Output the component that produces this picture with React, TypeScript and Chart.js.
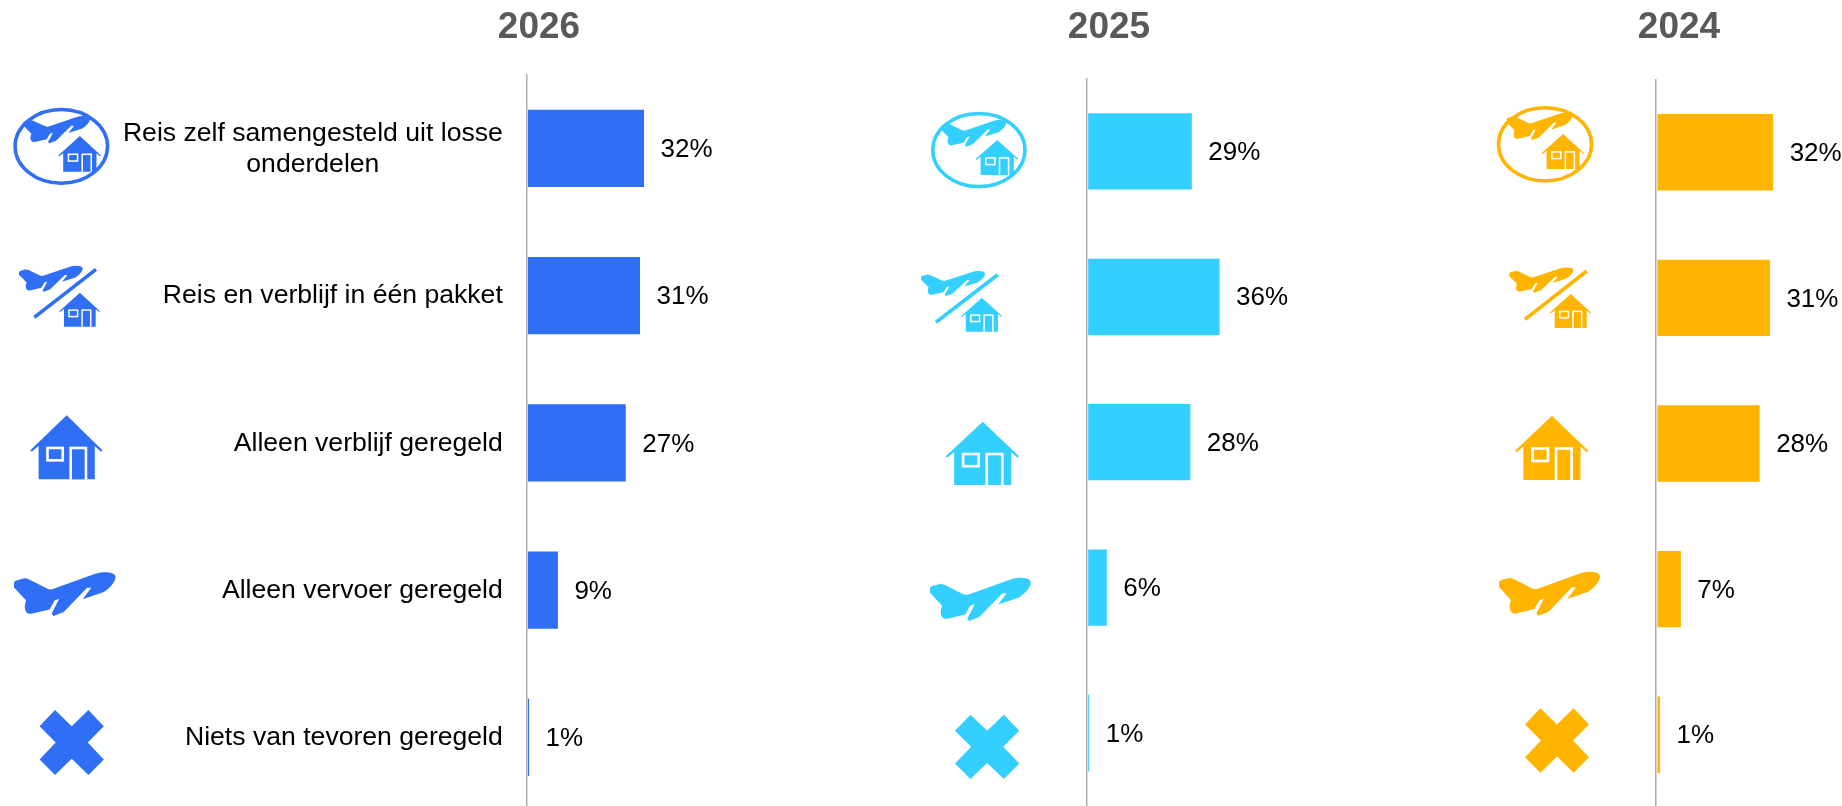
import React, { useEffect, useRef } from "react";
import { Chart, registerables } from "chart.js";

Chart.register(...registerables);

// ---- data ----
const categories: string[][] = [
  ["Reis zelf samengesteld uit losse", "onderdelen"],
  ["Reis en verblijf in één pakket"],
  ["Alleen verblijf geregeld"],
  ["Alleen vervoer geregeld"],
  ["Niets van tevoren geregeld"],
];
const years = ["2026", "2025", "2024"];
const values2026 = [32.2, 31.1, 27.2, 8.6, 0.7];
const values2025 = [28.8, 36.4, 28.4, 5.5, 0.7];
const values2024 = [32.1, 31.2, 28.4, 6.8, 1.1];
const colors = ["#2E6FF6", "#33CFFF", "#FFB500"];

// ---- layout (page pixels) ----
type Box = [number, number, number, number]; // x0,y0,x1,y1
interface Panel {
  year: string;
  values: number[];
  color: string;
  left: number;
  width: number;
  axisX: number;
  top: number;
  bottom: number;
  showCategories: boolean;
  oval: Box;
  ovalPlane: Box;
  ovalHouse: Box;
  slashPlane: Box;
  slash: Box;
  slashHouse: Box;
  house: Box;
  plane: Box;
  cross: Box;
}
const panels: Panel[] = [
  {
    year: years[0], values: values2026, color: colors[0], left: 0, width: 1078, axisX: 526.5, top: 74.7, bottom: 811, showCategories: true,
    oval: [13.3, 107.7, 109.3, 185], ovalPlane: [23.3, 116, 90, 143.3], ovalHouse: [58.3, 136, 101, 171.7],
    slashPlane: [19, 265.7, 82.7, 291.7], slash: [34.3, 317.3, 96, 269.3], slashHouse: [59.3, 292.7, 100, 326.7],
    house: [30.3, 415.3, 102.4, 479.3], plane: [14, 572, 115.5, 616], cross: [39.6, 710, 103.8, 775],
  },
  {
    year: years[1], values: values2025, color: colors[1], left: 900, width: 418, axisX: 1086.7, top: 78.7, bottom: 805.7, showCategories: false,
    oval: [931, 111.7, 1026.7, 188.3], ovalPlane: [940.7, 120, 1006, 146.7], ovalHouse: [975.7, 140, 1018.3, 175],
    slashPlane: [921, 271, 985, 296], slash: [936, 322.3, 997.7, 274.7], slashHouse: [961, 297.7, 1002.3, 331.7],
    house: [945.7, 421.7, 1019, 485], plane: [930, 577.7, 1030.7, 621], cross: [955, 714.7, 1019.3, 779],
  },
  {
    year: years[2], values: values2024, color: colors[2], left: 1470, width: 418, axisX: 1656, top: 79.5, bottom: 807.5, showCategories: false,
    oval: [1496.7, 106, 1593.3, 182.7], ovalPlane: [1506.7, 112.7, 1572.3, 140], ovalHouse: [1541.7, 134, 1584, 169],
    slashPlane: [1509.3, 267.3, 1573.3, 292.7], slash: [1525, 319.3, 1586.7, 271], slashHouse: [1550, 294, 1591, 328],
    house: [1515, 415.7, 1588.3, 480], plane: [1499, 571.7, 1600, 615.7], cross: [1525, 708.3, 1589, 772.7],
  },
];

const CANVAS_H = 830;
const PX_PER_PCT = 3.65;
const BAR_GAP_VALUE = 0.4;
const FONT = '"Liberation Sans", Arial, sans-serif';
const TITLE_SIZE = 37;
const TITLE_LH = 1.2;
const TITLE_PAD_TOP = 6;
const LABEL_SIZE = 26;
const CAT_SIZE = 26.6;
const CAT_LINE = 31.3;
const CAT_RIGHT = 502.8;

// ---- icon shapes ----
function drawPlane(ctx: CanvasRenderingContext2D, b: Box) {
  const [x0, y0, x1, y1] = b;
  const X = (u: number) => x0 + u * (x1 - x0);
  const Y = (v: number) => y0 + v * (y1 - y0);
  ctx.beginPath();
  ctx.moveTo(X(0), Y(0.25));
  ctx.quadraticCurveTo(X(0), Y(0.2), X(0.04), Y(0.18));
  ctx.lineTo(X(0.09), Y(0.15));
  ctx.quadraticCurveTo(X(0.11), Y(0.13), X(0.15), Y(0.17));
  ctx.lineTo(X(0.33), Y(0.38));
  ctx.quadraticCurveTo(X(0.36), Y(0.41), X(0.39), Y(0.38));
  ctx.lineTo(X(0.8), Y(0.04));
  ctx.bezierCurveTo(X(0.87), Y(-0.02), X(0.99), Y(-0.01), X(1), Y(0.1));
  ctx.bezierCurveTo(X(1), Y(0.25), X(0.93), Y(0.38), X(0.885), Y(0.455));
  ctx.lineTo(X(0.677), Y(0.62));
  ctx.lineTo(X(0.76), Y(0.36));
  ctx.lineTo(X(0.72), Y(0.36));
  ctx.lineTo(X(0.49), Y(0.91));
  ctx.lineTo(X(0.39), Y(1));
  ctx.lineTo(X(0.37), Y(0.95));
  ctx.lineTo(X(0.445), Y(0.61));
  ctx.lineTo(X(0.4), Y(0.65));
  ctx.lineTo(X(0.35), Y(0.85));
  ctx.lineTo(X(0.17), Y(0.95));
  ctx.bezierCurveTo(X(0.11), Y(0.98), X(0.09), Y(0.8), X(0.12), Y(0.65));
  ctx.lineTo(X(0), Y(0.35));
  ctx.closePath();
  ctx.fill();
}

function drawHouse(ctx: CanvasRenderingContext2D, b: Box, color: string) {
  const [x0, y0, x1, y1] = b;
  const w = x1 - x0;
  const X = (u: number) => x0 + u * w;
  const Y = (v: number) => y0 + v * (y1 - y0);
  const poly = (pts: number[][], fill: string) => {
    ctx.fillStyle = fill;
    ctx.beginPath();
    pts.forEach(([u, v], i) => (i ? ctx.lineTo(X(u), Y(v)) : ctx.moveTo(X(u), Y(v))));
    ctx.closePath();
    ctx.fill();
  };
  poly(
    [[0.505, 0], [1, 0.545], [0.98, 0.57], [0.894, 0.48], [0.894, 1], [0.115, 1], [0.115, 0.48], [0.02, 0.57], [0, 0.545]],
    color
  );
  const s = w * 0.036;
  const rect = (u0: number, v0: number, u1: number, v1: number, open: boolean) => {
    ctx.fillStyle = "#ffffff";
    ctx.fillRect(X(u0), Y(v0), X(u1) - X(u0), Y(v1) - Y(v0));
    ctx.fillStyle = color;
    ctx.fillRect(X(u0) + s, Y(v0) + s, X(u1) - X(u0) - 2 * s, Y(v1) - Y(v0) - (open ? s : 2 * s));
  };
  rect(0.22, 0.49, 0.468, 0.724, false);
  rect(0.542, 0.49, 0.79, 1, true);
}

function drawCross(ctx: CanvasRenderingContext2D, b: Box) {
  const [x0, y0, x1, y1] = b;
  const pts = [[0.24, 0], [0.5, 0.25], [0.76, 0], [1, 0.25], [0.75, 0.5], [1, 0.76], [0.76, 1], [0.5, 0.75], [0.24, 1], [0, 0.76], [0.25, 0.5], [0, 0.25]];
  ctx.beginPath();
  pts.forEach(([u, v], i) => {
    const x = x0 + u * (x1 - x0);
    const y = y0 + v * (y1 - y0);
    if (i) ctx.lineTo(x, y);
    else ctx.moveTo(x, y);
  });
  ctx.closePath();
  ctx.fill();
}

function makePlugin(p: Panel) {
  return {
    id: "panelDecor" + p.year,
    afterDatasetsDraw(chart: any) {
      const ctx: CanvasRenderingContext2D = chart.ctx;
      const meta = chart.getDatasetMeta(0);
      ctx.save();

      // value labels
      ctx.font = `${LABEL_SIZE}px ${FONT}`;
      ctx.fillStyle = "#000000";
      ctx.textAlign = "left";
      ctx.textBaseline = "middle";
      meta.data.forEach((bar: any, i: number) => {
        ctx.fillText(`${Math.round(p.values[i])}%`, bar.x + 16.5, bar.y + 1.5);
      });

      // category labels
      if (p.showCategories) {
        ctx.font = `${CAT_SIZE}px ${FONT}`;
        ctx.textBaseline = "middle";
        categories.forEach((lines, i) => {
          const cy = chart.scales.y.getPixelForValue(i) + 0.5;
          const w = Math.max(...lines.map((l) => ctx.measureText(l).width));
          lines.forEach((line, k) => {
            const y = cy + (k - (lines.length - 1) / 2) * CAT_LINE;
            if (lines.length > 1) {
              ctx.textAlign = "center";
              ctx.fillText(line, CAT_RIGHT - p.left - w / 2, y);
            } else {
              ctx.textAlign = "right";
              ctx.fillText(line, CAT_RIGHT - p.left, y);
            }
          });
        });
      }

      // icons
      ctx.translate(-p.left, 0);
      ctx.fillStyle = p.color;
      ctx.strokeStyle = p.color;
      const [ox0, oy0, ox1, oy1] = p.oval;
      ctx.lineWidth = 3.5;
      ctx.beginPath();
      ctx.ellipse((ox0 + ox1) / 2, (oy0 + oy1) / 2, (ox1 - ox0) / 2 - 1.75, (oy1 - oy0) / 2 - 1.75, 0, 0, Math.PI * 2);
      ctx.stroke();
      drawPlane(ctx, p.ovalPlane);
      drawHouse(ctx, p.ovalHouse, p.color);

      ctx.fillStyle = p.color;
      drawPlane(ctx, p.slashPlane);
      ctx.lineWidth = 3.6;
      ctx.beginPath();
      ctx.moveTo(p.slash[0], p.slash[1]);
      ctx.lineTo(p.slash[2], p.slash[3]);
      ctx.stroke();
      drawHouse(ctx, p.slashHouse, p.color);

      drawHouse(ctx, p.house, p.color);
      ctx.fillStyle = p.color;
      drawPlane(ctx, p.plane);
      drawCross(ctx, p.cross);
      ctx.restore();
    },
  };
}

function makeChart(canvas: HTMLCanvasElement, p: Panel) {
  const padLeft = p.axisX - p.left;
  const plotW = p.width - padLeft;
  const titleH = TITLE_SIZE * TITLE_LH + TITLE_PAD_TOP;
  return new Chart(canvas, {
    type: "bar",
    data: {
      labels: categories.map((c) => c.join(" ")),
      datasets: [
        {
          data: p.values,
          base: BAR_GAP_VALUE,
          backgroundColor: p.color,
          borderWidth: 0,
          barPercentage: 0.525,
          categoryPercentage: 1,
        } as any,
      ],
    },
    options: {
      indexAxis: "y",
      responsive: false,
      animation: false,
      events: [],
      layout: { padding: { left: 0, right: 0, top: 0, bottom: CANVAS_H - p.bottom } },
      plugins: {
        legend: { display: false },
        tooltip: { enabled: false },
        title: {
          display: true,
          text: p.year,
          color: "#595959",
          font: { family: FONT, size: TITLE_SIZE, weight: "bold", lineHeight: TITLE_LH },
          padding: { top: TITLE_PAD_TOP, bottom: p.top - titleH },
        },
      },
      scales: {
        x: { display: false, min: 0, max: plotW / PX_PER_PCT },
        y: {
          grid: { display: false },
          ticks: { display: false },
          border: { display: true, color: "#ABABAB", width: 1.5 },
          afterFit: (s: any) => {
            s.width = padLeft;
          },
        },
      },
    },
    plugins: [makePlugin(p)],
  } as any);
}

export default function App() {
  const refs = useRef<(HTMLCanvasElement | null)[]>([]);
  useEffect(() => {
    document.body.style.margin = "0";
    const charts = panels.map((p, i) => makeChart(refs.current[i]!, p));
    return () => charts.forEach((c) => c.destroy());
  }, []);
  return (
    <div style={{ position: "absolute", left: 0, top: 0, width: 1842, height: 806, overflow: "hidden", background: "#fff" }}>
      {panels.map((p, i) => (
        <canvas
          key={p.year}
          ref={(el) => {
            refs.current[i] = el;
          }}
          width={p.width}
          height={CANVAS_H}
          style={{ position: "absolute", left: p.left, top: 0, width: p.width, height: CANVAS_H }}
        />
      ))}
    </div>
  );
}
